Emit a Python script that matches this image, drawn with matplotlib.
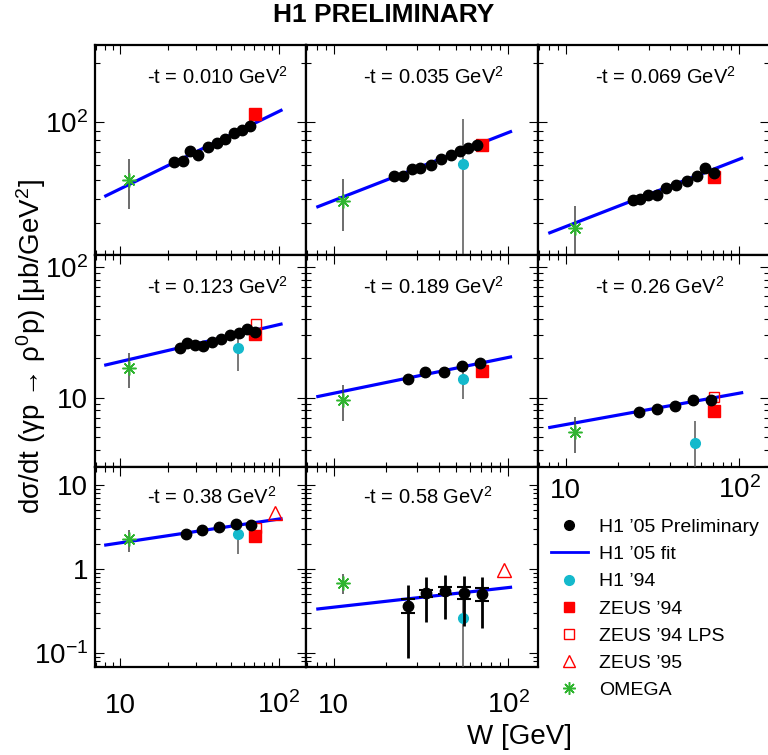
import numpy as np
import matplotlib
matplotlib.use("Agg")
import matplotlib.pyplot as plt
from matplotlib.lines import Line2D
from matplotlib.ticker import LogLocator, NullFormatter

plt.rcParams['font.family'] = ['Liberation Sans', 'DejaVu Sans']
plt.rcParams['mathtext.fontset'] = 'custom'
plt.rcParams['mathtext.rm'] = 'Liberation Sans'
plt.rcParams['mathtext.it'] = 'Liberation Sans:italic'
plt.rcParams['mathtext.bf'] = 'Liberation Sans:bold'

# -t bins
t_labels = ["0.010", "0.035", "0.069", "0.123", "0.189", "0.26", "0.38", "0.58"]

# H1 '05 preliminary
h105_w = [
    [21.7, 24.7, 27.6, 31.1, 35.6, 40.6, 45.9, 51.8, 58.1, 65.6],
    [22.0, 25.0, 28.0, 31.3, 36.1, 41.2, 46.9, 52.8, 58.9, 66.1],
    [24.3, 26.8, 29.7, 33.4, 37.8, 43.4, 50.0, 57.1, 63.0, 71.0],
    [23.9, 26.3, 29.7, 33.2, 37.8, 43.0, 49.3, 56.2, 63.1, 70.2],
    [26.5, 33.5, 42.7, 54.2, 68.4],
    [26.3, 33.4, 42.5, 54.0, 68.3],
    [26.1, 32.9, 41.8, 53.8, 66.9],
    [26.5, 33.9, 43.6, 55.6, 70.3],
]
h105_y = [
    [61.8, 63.0, 70.9, 67.3, 73.8, 78.0, 81.5, 87.4, 90.6, 95.0],
    [52.7, 52.3, 57.3, 58.0, 60.0, 64.2, 67.7, 70.4, 73.4, 76.1],
    [39.5, 40.1, 41.9, 41.7, 45.7, 47.3, 49.4, 52.3, 57.5, 54.6],
    [24.1, 26.4, 25.4, 25.1, 26.6, 28.3, 30.0, 31.5, 33.3, 32.0],
    [14.0, 15.7, 15.85, 17.5, 18.3],
    [7.80, 8.23, 8.57, 9.60, 9.60],
    [2.59, 2.89, 3.19, 3.41, 3.34],
    [0.366, 0.514, 0.552, 0.522, 0.500],
]
# errors only visible in the last bin
h105_tot_last = [0.28, 0.28, 0.30, 0.31, 0.30]
h105_stat_last = [0.07, 0.05, 0.05, 0.08, 0.09]

# H1 '05 fit (power law, straight on log-log)
fit_w = [8.1, 103]
fit_y = [[41.5, 114.3], [36.5, 88.8], [26.8, 64.8], [17.8, 36.6],
         [10.2, 20.5], [5.91, 10.9], [1.93, 3.97], [0.334, 0.605]]

# H1 '94
h194_w = 55.3
h194_y = [None, 60.7, None, 24.1, 13.9, 4.48, 2.61, 0.259]
h194_err = [None, 42.0, None, 8.0, 4.2, 2.2, 1.1, 0.25]

# ZEUS '94, ZEUS '94 LPS, ZEUS '95
zeus94_w = 71.0
zeus94_y = [109.6, 75.8, 52.1, 31.0, 16.1, 7.94, 2.49, None]
lps_w = 71.5
lps_y = [None, None, None, 36.4, None, 10.05, 3.05, None]
zeus95_w = 94.8
zeus95_y = [None, None, None, None, None, None, 4.6, 0.973]

# OMEGA
omega_w = 11.3
omega_y = [50.1, 39.0, 28.2, 16.9, 9.53, 5.45, 2.28, 0.687]
omega_err = [14.5, 11.5, 8.5, 5.0, 2.9, 1.7, 0.67, 0.18]

W, H = 768, 755
col_px = [(95, 306), (306, 538), (538, 769)]
row_px = [(45, 255), (255, 467), (467, 667)]
ylims = [(20.6, 248), (2.94, 124), (0.068, 16.4)]
yticks = [[100], [10, 100], [0.1, 1, 10]]
ytick_text = {0.1: '$10^{-1}$', 1: '1', 10: '10', 100: '$10^{2}$'}
xlim = (6.93, 148)

CYAN = '#14b9cc'
GREEN = '#2fb52f'
RED = '#ff0000'
BLUE = '#0000ff'

fig = plt.figure(figsize=(W / 100, H / 100), dpi=100)

for i in range(8):
    row, col = i // 3, i % 3
    x0, x1 = col_px[col]
    y0, y1 = row_px[row]
    ax = fig.add_axes([x0 / W, 1 - y1 / H, (x1 - x0) / W, (y1 - y0) / H])
    ax.set_xscale('log')
    ax.set_yscale('log')
    ax.set_xlim(*xlim)
    ax.set_ylim(*ylims[row])

    ax.plot(fit_w, fit_y[i], color=BLUE, lw=2.3, zorder=2)

    # OMEGA
    ax.errorbar([omega_w], [omega_y[i]], yerr=[omega_err[i]], fmt='none',
                ecolor='#444444', elinewidth=1.1, zorder=3)
    ax.plot([omega_w], [omega_y[i]], ls='none', marker=(8, 2, 0), ms=10,
            mec=GREEN, mew=1.1, zorder=4)

    if h194_y[i] is not None:
        ax.errorbar([h194_w], [h194_y[i]], yerr=[h194_err[i]], fmt='none',
                    ecolor='#555555', elinewidth=1.1, zorder=3)
        ax.plot([h194_w], [h194_y[i]], ls='none', marker='o', ms=7,
                color=CYAN, mec=CYAN, zorder=4)
    if zeus94_y[i] is not None:
        ax.plot([zeus94_w], [zeus94_y[i]], ls='none', marker='s', ms=8,
                color=RED, zorder=4)
    if lps_y[i] is not None:
        ax.plot([lps_w], [lps_y[i]], ls='none', marker='s', ms=7,
                mfc='none', mec=RED, mew=1.0, zorder=4)
    if zeus95_y[i] is not None:
        ax.plot([zeus95_w], [zeus95_y[i]], ls='none', marker='^', ms=10,
                mfc='none', mec=RED, mew=1.0, zorder=4)

    if i == 7:
        ax.errorbar(h105_w[i], h105_y[i], yerr=h105_tot_last, fmt='none',
                    ecolor='black', elinewidth=2.0, zorder=5)
        ax.errorbar(h105_w[i], h105_y[i], yerr=h105_stat_last, fmt='none',
                    ecolor='black', elinewidth=2.0, capsize=5, capthick=1.5,
                    zorder=5)
    ax.plot(h105_w[i], h105_y[i], ls='none', marker='o', ms=7.5,
            color='black', zorder=6)

    ax.text(0.245, 0.85, '-t = %s GeV$^{2}$' % t_labels[i],
            transform=ax.transAxes, fontsize=14.5, ha='left', va='center')

    for sp in ax.spines.values():
        sp.set_linewidth(1.6)
    ax.tick_params(which='both', direction='in', top=True, right=True,
                   width=0.8)
    ax.tick_params(which='major', length=6.5)
    ax.tick_params(which='minor', length=3.6)

    # y ticks
    ax.set_yticks(yticks[row])
    ax.yaxis.set_minor_locator(LogLocator(base=10, subs=np.arange(2, 10),
                                          numticks=20))
    ax.yaxis.set_minor_formatter(NullFormatter())
    if col == 0:
        ax.set_yticklabels([ytick_text[v] for v in yticks[row]])
        ax.tick_params(axis='y', labelsize=20, pad=5)
    else:
        ax.set_yticklabels([])

    # x ticks
    ax.set_xticks([10, 100])
    ax.xaxis.set_minor_locator(LogLocator(base=10, subs=np.arange(2, 10),
                                          numticks=20))
    ax.xaxis.set_minor_formatter(NullFormatter())
    if i in (5, 6, 7):
        ax.set_xticklabels(['10', '$10^{2}$'])
        pad = 22.5 if i == 5 else 33
        ax.tick_params(axis='x', labelsize=20, pad=pad)
        for lab in ax.get_xticklabels():
            lab.set_verticalalignment('baseline')
    else:
        ax.set_xticklabels([])

# legend
handles = [
    Line2D([], [], ls='none', marker='o', ms=7, color='black'),
    Line2D([], [], color=BLUE, lw=2.0),
    Line2D([], [], ls='none', marker='o', ms=7, color=CYAN),
    Line2D([], [], ls='none', marker='s', ms=7, color=RED),
    Line2D([], [], ls='none', marker='s', ms=6.5, mfc='none', mec=RED, mew=1.0),
    Line2D([], [], ls='none', marker='^', ms=9, mfc='none', mec=RED, mew=1.0),
    Line2D([], [], ls='none', marker=(8, 2, 0), ms=9, mec=GREEN, mew=1.1),
]
labels = ["H1 \u201905 Preliminary", "H1 \u201905 fit", "H1 \u201994",
          "ZEUS \u201994", "ZEUS \u201994 LPS", "ZEUS \u201995", "OMEGA"]
fig.legend(handles, labels, loc='upper left',
           bbox_to_anchor=(551 / W, 1 - 518.5 / H), frameon=False,
           fontsize=14, handlelength=1.9, handletextpad=0.55,
           labelspacing=0.49, borderpad=0, borderaxespad=0)

fig.text(384 / W, 1 - 15 / H, 'H1 PRELIMINARY', fontsize=19,
         fontweight='bold', ha='center', va='center')
fig.text(31 / W, 1 - 347 / H,
         'd\u03c3/dt (\u03b3p \u2192 \u03c1$^{0}$p) [\u03bcb/GeV$^{2}$]',
         rotation=90, fontsize=20, ha='center', va='center')
fig.text(572 / W, 1 - 737 / H, 'W [GeV]', fontsize=20,
         ha='right', va='center')

fig.savefig('out.png', dpi=100)
